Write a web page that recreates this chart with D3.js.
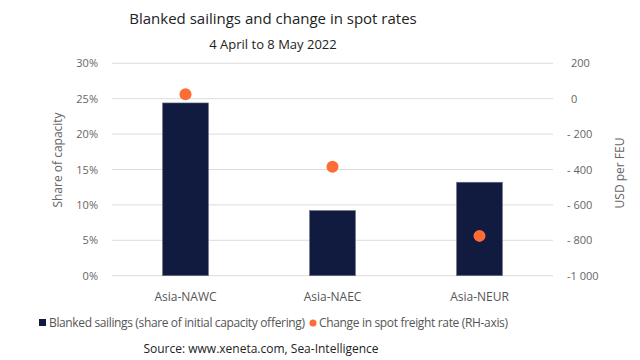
<!DOCTYPE html>
<html><head><meta charset="utf-8">
<script src="https://cdn.jsdelivr.net/npm/d3@7"></script>
<style>body{margin:0;background:#fff}svg{display:block;font-family:"Open Sans",sans-serif}</style>
</head><body>
<svg id="c" width="640" height="360"></svg>
<script>
const categories = ["Asia-NAWC", "Asia-NAEC", "Asia-NEUR"];
const blankedShare = [24.4, 9.2, 13.2];
const spotChange = [25, -385, -775];
const leftTicks = [0, 5, 10, 15, 20, 25, 30];
const rightTicks = [-1000, -800, -600, -400, -200, 0, 200];

const svg = d3.select("#c");
const L = 112, R = 553, T = 63.3, B = 275.7;

const x = d3.scaleBand().domain(categories).range([L, R]).paddingInner(0.688).paddingOuter(0.344);
const yL = d3.scaleLinear().domain([0, 30]).range([B, T]);
const yR = d3.scaleLinear().domain([-1000, 200]).range([B, T]);

// grid
svg.append("g").selectAll("line").data(leftTicks).join("line")
  .attr("x1", L).attr("x2", R).attr("y1", d => yL(d)).attr("y2", d => yL(d))
  .attr("stroke", "#dcdcdc").attr("stroke-width", 1);

// left axis
const axL = d3.axisLeft(yL).tickValues(leftTicks).tickFormat(d => d + "%").tickSize(0).tickPadding(0);
const gL = svg.append("g").attr("transform", `translate(${L - 14},0)`).call(axL);
gL.select(".domain").remove();
gL.selectAll("text").attr("fill", "#666").attr("font-size", 11).attr("font-family", "Open Sans");

// right axis
const fmtR = d => d === 0 ? "0" : (d <= -1000 ? "-" + d3.format(",")(-d).replace(",", " ") : (d < 0 ? "- " + (-d) : String(d)));
const axR = d3.axisRight(yR).tickValues(rightTicks).tickFormat(fmtR).tickSize(0).tickPadding(0);
const gR = svg.append("g").attr("transform", `translate(${R + 14},0)`).call(axR);
gR.select(".domain").remove();
gR.selectAll("text").attr("fill", "#666").attr("font-size", 11).attr("font-family", "Open Sans")
  .attr("dx", d => d >= 0 ? 4 : 0);

// bars
svg.append("g").selectAll("rect").data(categories).join("rect")
  .attr("x", d => x(d)).attr("width", x.bandwidth())
  .attr("y", (d, i) => yL(blankedShare[i])).attr("height", (d, i) => B - yL(blankedShare[i]))
  .attr("fill", "#111a3f").attr("stroke", "#6a6f86").attr("stroke-width", 0.6);

// dots
svg.append("g").selectAll("circle").data(categories).join("circle")
  .attr("cx", d => x(d) + x.bandwidth() / 2).attr("cy", (d, i) => yR(spotChange[i]))
  .attr("r", 6).attr("fill", "#ff6b35");

// category labels
svg.append("g").selectAll("text").data(categories).join("text")
  .attr("x", d => x(d) + x.bandwidth() / 2).attr("y", 301)
  .attr("text-anchor", "middle").attr("font-size", 12).attr("fill", "#555").text(d => d);

// axis titles
svg.append("text").attr("transform", "translate(62,160) rotate(-90)").attr("text-anchor", "middle")
  .attr("font-size", 12).attr("fill", "#666").text("Share of capacity");
svg.append("text").attr("transform", "translate(624,173) rotate(-90)").attr("text-anchor", "middle")
  .attr("font-size", 12).attr("fill", "#666").text("USD per FEU");

// title
svg.append("text").attr("x", 273).attr("y", 24).attr("text-anchor", "middle")
  .attr("font-size", 15).attr("fill", "#222").text("Blanked sailings and change in spot rates");
svg.append("text").attr("x", 273).attr("y", 49).attr("text-anchor", "middle")
  .attr("font-size", 13).attr("fill", "#222").text("4 April to 8 May 2022");

// legend
svg.append("rect").attr("x", 39).attr("y", 319).attr("width", 7).attr("height", 7).attr("fill", "#111a3f");
svg.append("text").attr("x", 49).attr("y", 327).attr("font-size", 12).attr("fill", "#555")
  .attr("textLength", 256).text("Blanked sailings (share of initial capacity offering)");
svg.append("circle").attr("cx", 313).attr("cy", 323).attr("r", 3.5).attr("fill", "#ff6b35");
svg.append("text").attr("x", 319).attr("y", 327).attr("font-size", 12).attr("fill", "#555")
  .attr("textLength", 189).text("Change in spot freight rate (RH-axis)");

// source
svg.append("text").attr("x", 261).attr("y", 353).attr("text-anchor", "middle")
  .attr("font-size", 12).attr("fill", "#222").text("Source: www.xeneta.com, Sea-Intelligence");
</script>
</body></html>
